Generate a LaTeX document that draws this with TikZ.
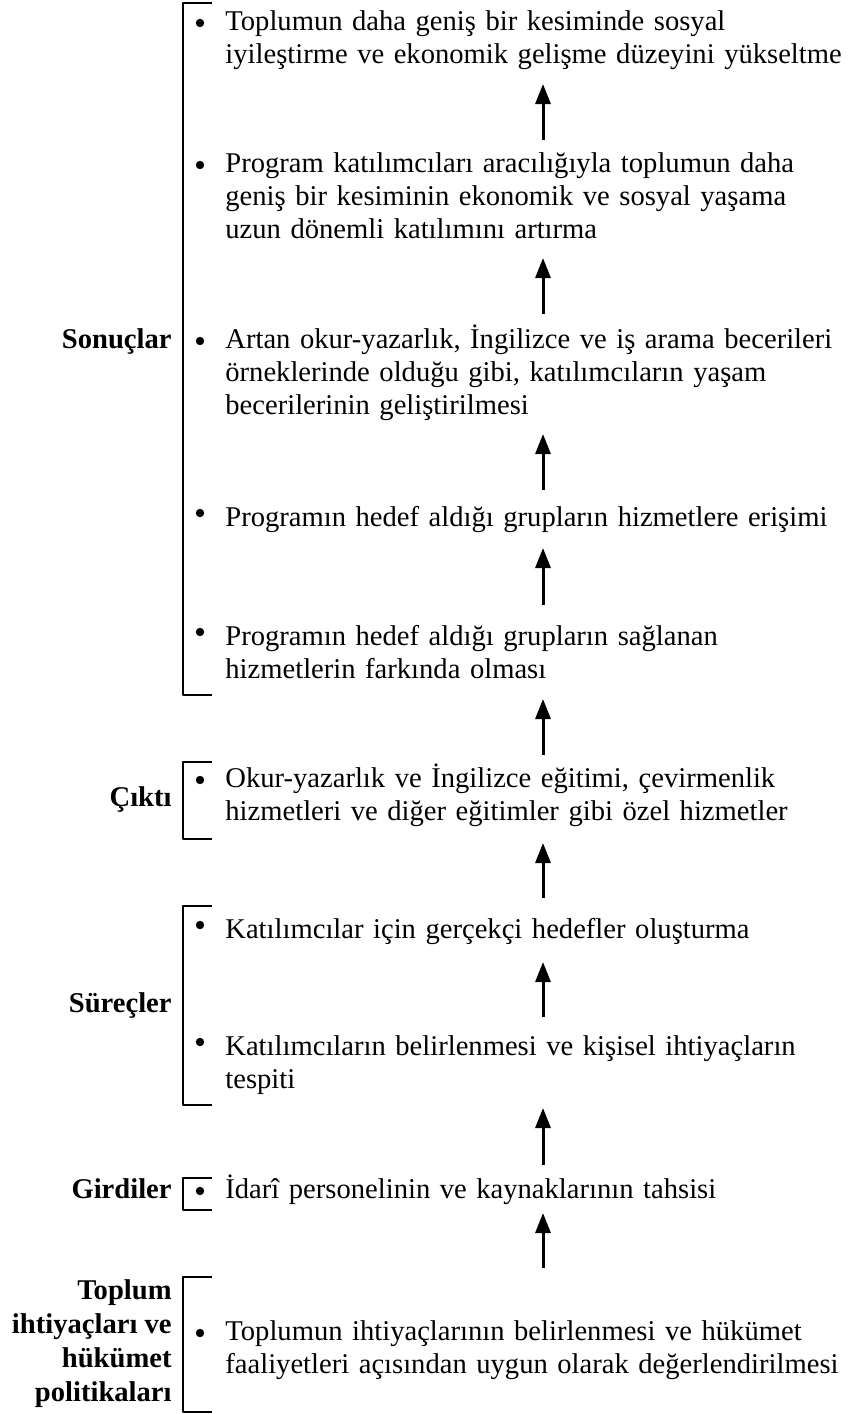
\documentclass[tikz,border=0pt]{standalone}
\usepackage{fontspec}
\setmainfont{Liberation Serif}
\usetikzlibrary{arrows.meta}
\tikzset{
	txt/.style={font=\fontsize{14.3}{16.5}\selectfont},
	item/.style={txt,anchor=base west,inner sep=0pt,align=left,text width=330pt},
	dot/.style={circle,fill,inner sep=0pt,minimum size=4.2pt},
	stage/.style={inner sep=0pt,align=right,font=\fontsize{14.3}{17}\selectfont\bfseries},
	brack/.style={line width=1.2pt},
	up/.style={line width=1.5pt,-{Triangle[length=10pt,width=7.5pt]}}
}
\begin{document}
\begin{tikzpicture}[x=0.5pt,y=-0.5pt,line join=round]
	%==Phần thông số
	\def\bx{183}% cot ngoac
	\def\dx{200}% cot dau cham
	\def\tx{225}% cot chu
	\def\lx{172}% cot nhan
	\def\ax{543}% cot mui ten
	\def\lo{7}% cham thuong
	\def\hi{13}% cham cao
	%==============
	\useasboundingbox (0,0) rectangle (848,1414);
	%==Sonuçlar
	\draw[brack] (212,3)--(\bx,3)--(\bx,695)--(212,695);
	\node[stage,anchor=base east] (son) at (\lx,348) {Sonuçlar};
	\node[dot] (d1) at (\dx,30-\lo) {};
	\node[item] (s1) at (\tx,30) {Toplumun daha geniş bir kesiminde sosyal\\iyileştirme ve ekonomik gelişme düzeyini yükseltme};
	\node[dot] (d2) at (\dx,172-\lo) {};
	\node[item] (s2) at (\tx,172) {Program katılımcıları aracılığıyla toplumun daha\\geniş bir kesiminin ekonomik ve sosyal yaşama\\uzun dönemli katılımını artırma};
	\node[dot] (d3) at (\dx,348-\lo) {};
	\node[item] (s3) at (\tx,348) {Artan okur-yazarlık, İngilizce ve iş arama becerileri\\örneklerinde olduğu gibi, katılımcıların yaşam\\becerilerinin geliştirilmesi};
	\node[dot] (d4) at (\dx,526-\hi) {};
	\node[item] (s4) at (\tx,526) {Programın hedef aldığı grupların hizmetlere erişimi};
	\node[dot] (d5) at (\dx,645-\hi) {};
	\node[item] (s5) at (\tx,645) {Programın hedef aldığı grupların sağlanan\\hizmetlerin farkında olması};
	%==Çıktı
	\draw[brack] (212,762)--(\bx,762)--(\bx,839)--(212,839);
	\node[stage,anchor=base east] (cik) at (\lx,806) {Çıktı};
	\node[dot] (d6) at (\dx,787-\lo) {};
	\node[item] (c1) at (\tx,787) {Okur-yazarlık ve İngilizce eğitimi, çevirmenlik\\hizmetleri ve diğer eğitimler gibi özel hizmetler};
	%==Süreçler
	\draw[brack] (212,906)--(\bx,906)--(\bx,1105)--(212,1105);
	\node[stage,anchor=base east] (sur) at (\lx,1012) {Süreçler};
	\node[dot] (d7) at (\dx,938-\hi) {};
	\node[item] (p1) at (\tx,938) {Katılımcılar için gerçekçi hedefler oluşturma};
	\node[dot] (d8) at (\dx,1055-\hi) {};
	\node[item] (p2) at (\tx,1055) {Katılımcıların belirlenmesi ve kişisel ihtiyaçların\\tespiti};
	%==Girdiler
	\draw[brack] (212,1178)--(\bx,1178)--(\bx,1210)--(212,1210);
	\node[stage,anchor=base east] (gir) at (\lx,1198) {Girdiler};
	\node[dot] (d9) at (\dx,1198-\lo) {};
	\node[item] (g1) at (\tx,1198) {İdarî personelinin ve kaynaklarının tahsisi};
	%==Toplum ihtiyaçları
	\draw[brack] (212,1277)--(\bx,1277)--(\bx,1412)--(212,1412);
	\node[stage,anchor=east] (top) at (\lx,1344) {Toplum\\ihtiyaçları ve\\hükümet\\politikaları};
	\node[dot] (d10) at (\dx,1340-\lo) {};
	\node[item] (t1) at (\tx,1340) {Toplumun ihtiyaçlarının belirlenmesi ve hükümet\\faaliyetleri açısından uygun olarak değerlendirilmesi};
	%==Mũi tên
	\foreach \t/\h [count=\i] in {140/84,314/258,490/434,605/548,755/699,898/843,1017/962,1165/1108,1268/1213}{
		\coordinate (t\i) at (\ax,\t);
		\coordinate (h\i) at (\ax,\h);
		\draw[up] (t\i)--(h\i);
	}
\end{tikzpicture}
\end{document}
